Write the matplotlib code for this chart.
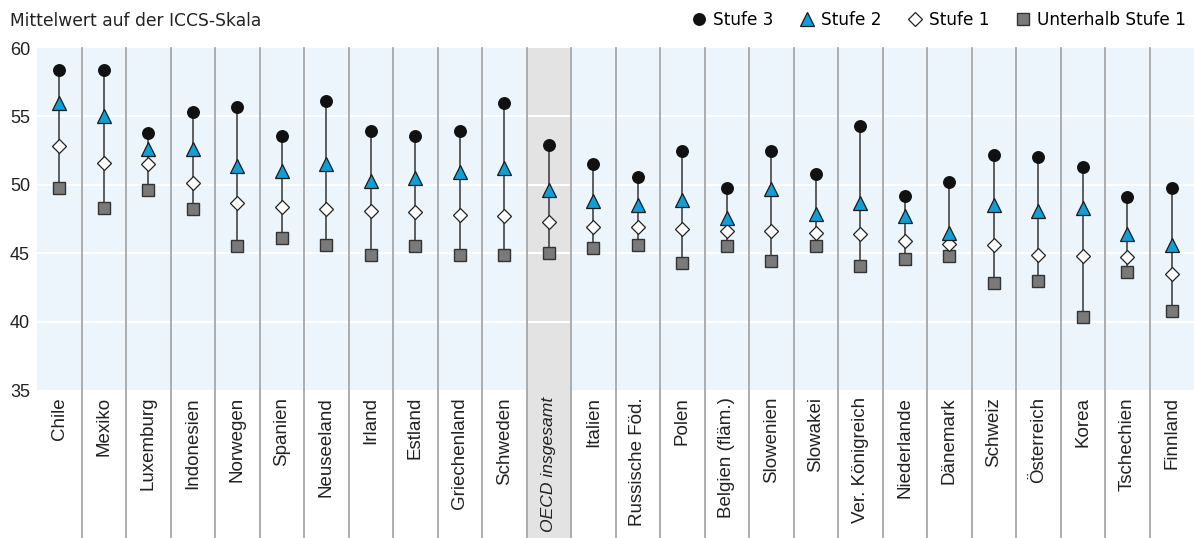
import matplotlib; matplotlib.use('Agg')  # noqa
import matplotlib.pyplot as plt
import matplotlib.transforms as mtransforms
from matplotlib.lines import Line2D
from matplotlib.patches import Rectangle

plt.rcParams['font.family'] = ['Liberation Sans', 'DejaVu Sans']

countries = ['Chile', 'Mexiko', 'Luxemburg', 'Indonesien', 'Norwegen', 'Spanien',
             'Neuseeland', 'Irland', 'Estland', 'Griechenland', 'Schweden',
             'OECD insgesamt', 'Italien', 'Russische Föd.', 'Polen', 'Belgien (fläm.)',
             'Slowenien', 'Slowakei', 'Ver. Königreich', 'Niederlande', 'Dänemark',
             'Schweiz', 'Österreich', 'Korea', 'Tschechien', 'Finnland']
stufe3 = [58.4, 58.4, 53.8, 55.3, 55.7, 53.6, 56.1, 53.9, 53.6, 53.9, 56.0,
          52.9, 51.5, 50.6, 52.5, 49.8, 52.5, 50.8, 54.3, 49.2, 50.2,
          52.2, 52.0, 51.3, 49.1, 49.8]
stufe2 = [56.0, 55.0, 52.6, 52.6, 51.4, 51.0, 51.5, 50.3, 50.5, 50.9, 51.2,
          49.6, 48.8, 48.5, 48.9, 47.6, 49.7, 47.9, 48.7, 47.7, 46.5,
          48.5, 48.1, 48.3, 46.4, 45.6]
stufe1 = [52.8, 51.6, 51.5, 50.1, 48.7, 48.4, 48.2, 48.1, 48.0, 47.8, 47.7,
          47.3, 46.9, 46.9, 46.8, 46.6, 46.6, 46.5, 46.4, 45.9, 45.7,
          45.6, 44.9, 44.8, 44.7, 43.5]
unter1 = [49.8, 48.3, 49.6, 48.2, 45.5, 46.1, 45.6, 44.9, 45.5, 44.9, 44.9,
          45.0, 45.4, 45.6, 44.3, 45.5, 44.4, 45.5, 44.1, 44.6, 44.8,
          42.8, 43.0, 40.3, 43.6, 40.8]
oecd_idx = 11

BG = '#ecf4fc'
BLUE = '#0f9ed5'
SQ = '#7a7a7a'
DIV = '#a0a0a0'
TXT = '#222222'

fig = plt.figure(figsize=(11.94, 5.38), dpi=100)
ax = fig.add_axes([37 / 1194, 1 - 390 / 538, 1 - 37 / 1194, 342 / 538])
ax.set_facecolor(BG)
n = len(countries)
ax.set_xlim(-0.5, n - 0.5)
ax.set_ylim(35, 60)

# the column separators and the OECD band run down through the label area
below = -148 / 342
trans = mtransforms.blended_transform_factory(ax.transData, ax.transAxes)
ax.add_patch(Rectangle((oecd_idx - 0.5, below), 1, 1 - below, transform=trans,
                       facecolor='#e3e3e3', edgecolor='none', clip_on=False, zorder=0.5))

for yv in [40, 45, 50, 55]:
    ax.axhline(yv, color='white', lw=1.5, zorder=1)
for i in range(n - 1):
    ax.add_line(Line2D([i + 0.5, i + 0.5], [below, 1], transform=trans, color=DIV,
                       lw=1.2, clip_on=False, zorder=1.5))

x = list(range(n))
for i in x:
    lo = min(stufe3[i], stufe2[i], stufe1[i], unter1[i])
    hi = max(stufe3[i], stufe2[i], stufe1[i], unter1[i])
    ax.plot([i, i], [lo, hi], color='#444444', lw=1.2, zorder=2)

ax.plot(x, unter1, 's', ms=8, mfc=SQ, mec='#333333', mew=1.0, zorder=3, label='Unterhalb Stufe 1')
ax.plot(x, stufe1, 'D', ms=7.3, mfc='white', mec='#222222', mew=0.9, zorder=4, label='Stufe 1')
ax.plot(x, stufe2, '^', ms=10, mfc=BLUE, mec='#1a1a1a', mew=0.9, zorder=5, label='Stufe 2')
ax.plot(x, stufe3, 'o', ms=8.3, mfc='#111111', mec='#111111', zorder=6, label='Stufe 3')

ax.set_yticks([35, 40, 45, 50, 55, 60])
ax.tick_params(axis='y', length=0, labelsize=13, pad=5, colors=TXT)
ax.set_xticks(x)
ax.set_xticklabels(countries, rotation=90, fontsize=13.5, color=TXT)
ax.tick_params(axis='x', length=0, pad=5)
oecd_lbl = ax.get_xticklabels()[oecd_idx]
oecd_lbl.set_style('italic')
oecd_lbl.set_fontsize(12.6)
for s in ax.spines.values():
    s.set_visible(False)

fig.text(10 / 1194, 1 - 21 / 538, 'Mittelwert auf der ICCS-Skala', fontsize=12.3,
         family='DejaVu Sans', va='center', color=TXT)

h, l = ax.get_legend_handles_labels()
order = [3, 2, 1, 0]
fig.legend([h[k] for k in order], [l[k] for k in order], loc='center right',
           bbox_to_anchor=(1.0, 1 - 20 / 538), ncol=4, frameon=False,
           prop={'family': 'DejaVu Sans', 'size': 12.2},
           handletextpad=0.3, columnspacing=1.5, handlelength=1.0, borderaxespad=0.1)

plt.savefig('out.png', dpi=100)
